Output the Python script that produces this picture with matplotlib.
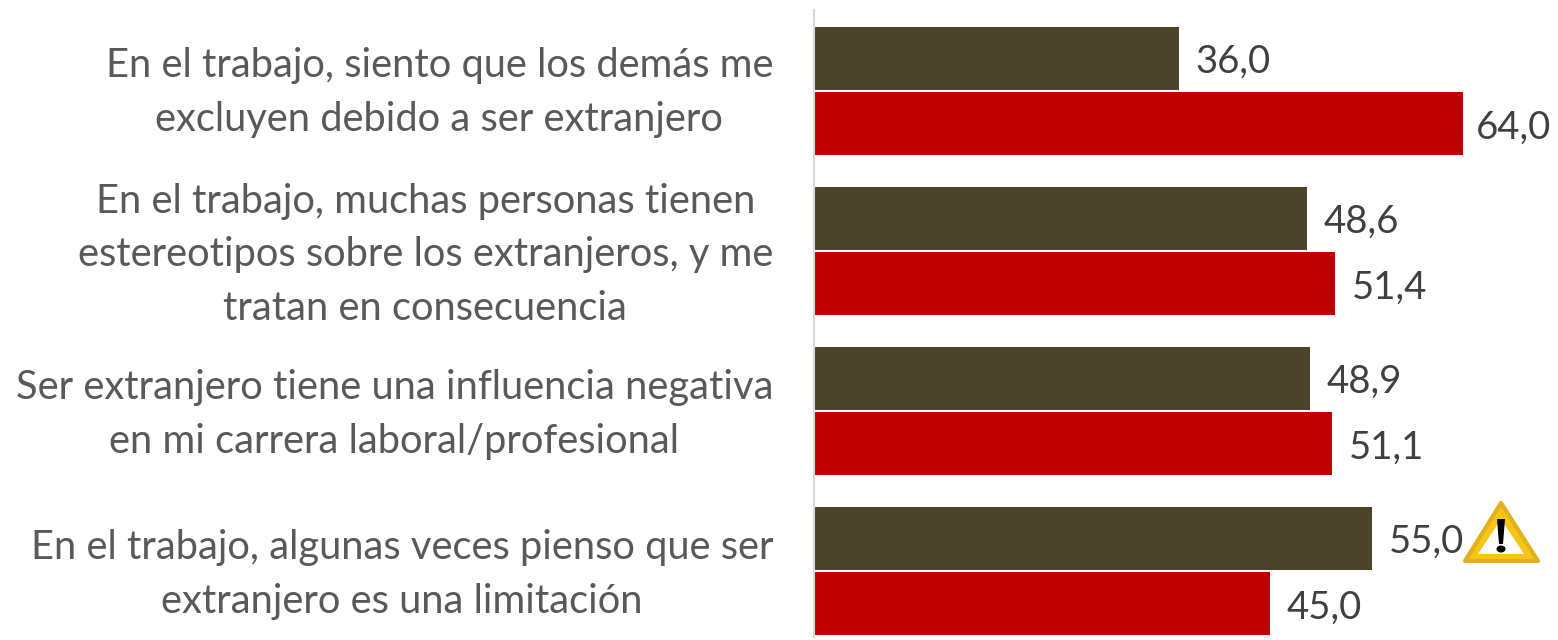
import matplotlib
matplotlib.use("Agg")
import matplotlib.pyplot as plt
from matplotlib.patches import Polygon, Ellipse
from matplotlib.transforms import ScaledTranslation

categories = [
    "En el trabajo, siento que los demás me\nexcluyen debido a ser extranjero",
    "En el trabajo, muchas personas tienen\nestereotipos sobre los extranjeros, y me\ntratan en consecuencia",
    "Ser extranjero tiene una influencia negativa\nen mi carrera laboral/profesional",
    "En el trabajo, algunas veces pienso que ser\nextranjero es una limitación",
]
series_a = [36.0, 48.6, 48.9, 55.0]
series_b = [64.0, 51.4, 51.1, 45.0]
label_shift_px = [10, 8, 8, 8]

W, H = 1558, 640
FONT = "Lato"
fig = plt.figure(figsize=(W / 100, H / 100), dpi=100, facecolor="white")
ax = fig.add_axes([814 / W, 1 - 637 / H, (W - 814) / W, 627 / H])

bar_h = 63 / 160
off = 32.7 / 160
for i, (a, b) in enumerate(zip(series_a, series_b)):
    ax.barh(i - off, a, height=bar_h, color="#4C432B", linewidth=0)
    ax.barh(i + off, b, height=bar_h, color="#C00000", linewidth=0)
    for y, v in ((i - off, a), (i + off, b)):
        pad = 9.5 if v == max(series_b) else 12
        ax.annotate(f"{v:.1f}".replace(".", ","), (v, y), xytext=(pad, -2.8),
                    textcoords="offset points", va="center", ha="left",
                    fontsize=27.6, color="#404040", family=FONT)

ax.set_xlim(0, (W - 814) / (649 / 64))
ax.set_ylim((637 - 91) / 160, (10 - 91) / 160)
ax.set_yticks(range(len(categories)))
ax.set_yticklabels(categories, fontsize=28.7, color="#595959", family=FONT,
                   multialignment="center", linespacing=1.55)
ax.tick_params(axis="y", length=0, pad=29.5)
ax.xaxis.set_visible(False)
for s in ("top", "right", "bottom"):
    ax.spines[s].set_visible(False)
ax.spines["left"].set_color("#D9D9D9")
ax.spines["left"].set_linewidth(1.5)

for lab, px in zip(ax.get_yticklabels(), label_shift_px):
    shift = ScaledTranslation(0, px / 100, fig.dpi_scale_trans)
    lab.set_transform(lab.get_transform() + shift)

# warning icon, in pixel coordinates of the figure
ov = fig.add_axes([0, 0, 1, 1], facecolor="none")
ov.set_xlim(0, W)
ov.set_ylim(H, 0)
ov.axis("off")
ov.add_patch(Polygon([(1501, 503), (1465, 561), (1538, 561)], closed=True,
                     facecolor="#F9C414", edgecolor="#E3B020", linewidth=3, joinstyle="round"))
ov.add_patch(Polygon([(1501, 519), (1478, 554), (1524, 554)], closed=True,
                     facecolor="white", edgecolor="none"))
ov.add_patch(Polygon([(1497, 519), (1505, 519), (1503, 544), (1499, 544)], closed=True,
                     facecolor="black", edgecolor="none"))
ov.add_patch(Ellipse((1501, 549), 9, 7, facecolor="black", edgecolor="none"))

fig.savefig("out.png", dpi=100)
